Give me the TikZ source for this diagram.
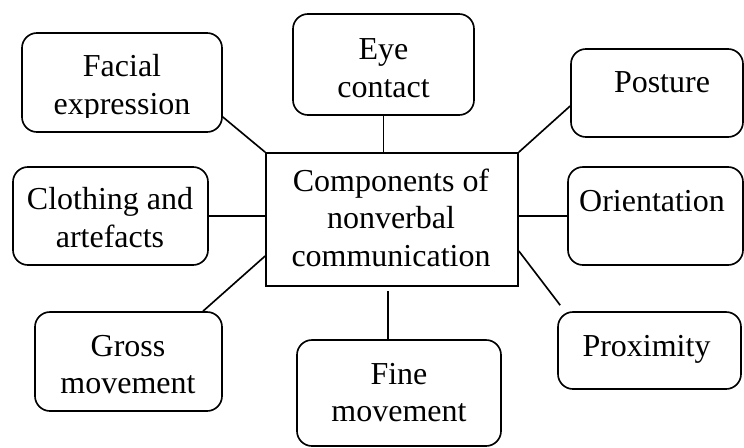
\documentclass[tikz,border=0pt]{standalone}
\usepackage{fontspec}
\setmainfont{Liberation Serif}
\usetikzlibrary{calc}

\begin{document}
\begin{tikzpicture}[x=0.03cm, y=-0.03cm,
  box/.style={draw, rounded corners=0.45cm, line width=1.4pt},
  hub/.style={draw, line width=1.4pt},
  lbl/.style={align=center, inner sep=0pt, font=\fontsize{27.3}{32}\selectfont},
  conn/.style={line width=1.4pt}]
\useasboundingbox (0,0) rectangle (744,448);

\node (center) [hub, minimum width=7.56cm, minimum height=3.99cm] at (392,219.5) {};
\node (centertxt) [lbl] at (391,217.5) {Components of\\nonverbal\\communication};

\node (facial) [box, minimum width=6cm, minimum height=2.97cm] at (122,82.5) {};
\begin{scope}
  \clip (22,33) rectangle (222,117);
  \node (facialtxt) [lbl] at (122,88) {Facial\\expression};
\end{scope}

\node (eye) [box, minimum width=5.43cm, minimum height=3.03cm] at (383.5,64.5) {};
\node (eyetxt) [lbl] at (383.5,68) {Eye\\contact};

\node (posture) [box, minimum width=5.16cm, minimum height=2.64cm] at (657,93) {};
\node (posturetxt) [lbl] at (662,82.5) {Posture};

\node (clothing) [box, minimum width=5.85cm, minimum height=2.94cm] at (110.5,216) {};
\node (clothingtxt) [lbl] at (110,217.5) {Clothing and\\artefacts};

\node (orient) [box, minimum width=5.25cm, minimum height=2.94cm] at (655.5,216) {};
\node (orienttxt) [lbl] at (652,201) {Orientation};

\node (gross) [box, minimum width=5.61cm, minimum height=2.97cm] at (128.5,361.5) {};
\node (grosstxt) [lbl] at (128,364.5) {Gross\\movement};

\node (fine) [box, minimum width=6.12cm, minimum height=3.18cm] at (399,393) {};
\node (finetxt) [lbl] at (399,392.5) {Fine\\movement};

\node (proximity) [box, minimum width=5.49cm, minimum height=2.31cm] at (649.5,350.5) {};
\node (proximitytxt) [lbl] at (646.5,349) {Proximity};

\coordinate (stem) at ($(center.south)+(-4,0)$);

\draw[conn] ($(facial.east)+(0,34.5)$) -- (center.north west);
\draw[conn] (eye.south) -- (eye.south |- center.north);
\draw[conn] ($(posture.west)+(0,13)$) -- (center.north east);
\draw[conn] (clothing.east) -- (clothing.east -| center.west);
\draw[conn] (center.east |- orient.west) -- (orient.west);
\draw[conn] ($(gross.north)+(74.5,0)$) -- ($(center.west)+(0,36.5)$);
\draw[conn, shorten <=0.12cm] (stem) -- (stem |- fine.north);
\draw[conn] ($(center.east)+(0,31.5)$) -- ($(proximity.north west)+(3,-6)$);
\end{tikzpicture}
\end{document}
